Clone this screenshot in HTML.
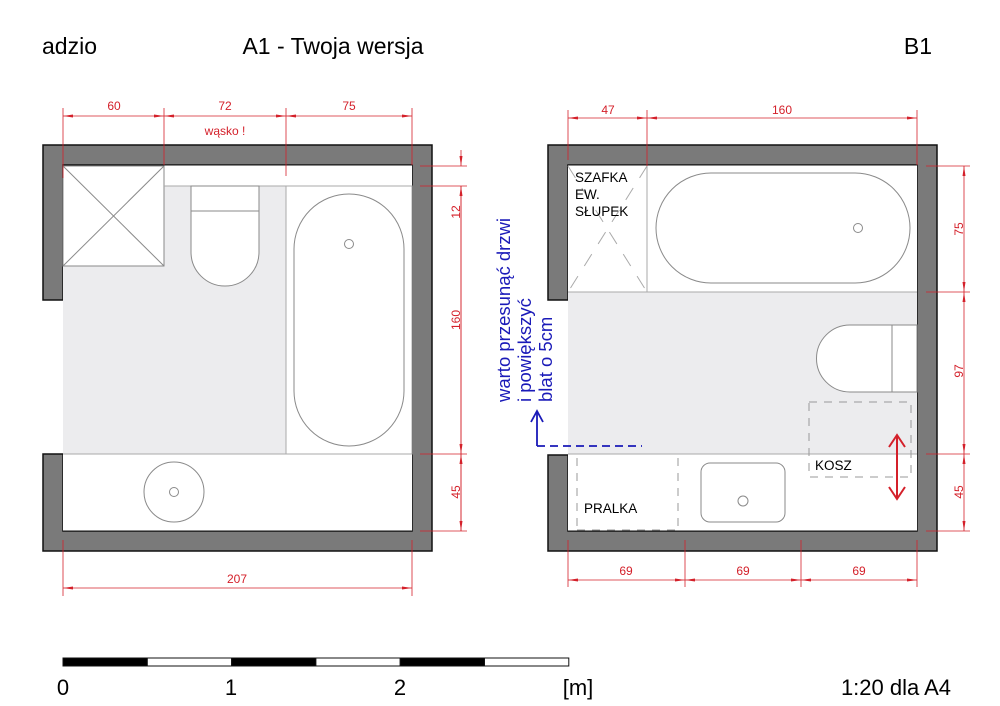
<!DOCTYPE html>
<html><head><meta charset="utf-8"><style>
html,body{margin:0;padding:0;background:#fff;}
svg{display:block;font-family:"Liberation Sans",Arial,sans-serif;}
.r{fill:#d4202a;font-size:12px;text-anchor:middle;}
.dl{stroke:#d4202a;stroke-width:0.8;fill:none;}
.w{fill:#7a7a7a;stroke:#111;stroke-width:1.5;}
.f{stroke:#8a8a8a;stroke-width:1;fill:#fff;}
</style></head><body>
<svg width="1000" height="706" viewBox="0 0 1000 706">
<defs>
<marker id="a" viewBox="0 0 10 6" refX="10" refY="3" markerWidth="10" markerHeight="6" orient="auto-start-reverse" markerUnits="userSpaceOnUse"><path d="M0,1.5 L10,3 L0,4.5 Z" fill="#d4202a"/></marker>
</defs>
<text x="42" y="54" font-size="23">adzio</text>
<text x="333" y="54" font-size="23" text-anchor="middle">A1 - Twoja wersja</text>
<text x="918" y="54" font-size="23" text-anchor="middle">B1</text>

<!-- LEFT PLAN -->
<path class="w" d="M43,145 H432 V551 H43 V454 H63 V531 H412 V165 H63 V300 H43 Z"/>
<rect x="63" y="165.5" width="349" height="365" fill="#fff"/>
<rect x="63" y="186" width="223" height="268" fill="#ececee"/>
<rect x="63" y="166" width="101" height="100" class="f"/>
<line x1="63" y1="166" x2="164" y2="266" stroke="#8a8a8a"/>
<line x1="164" y1="166" x2="63" y2="266" stroke="#8a8a8a"/>
<line x1="164" y1="186" x2="412" y2="186" stroke="#aaa"/>
<rect x="286" y="186" width="126" height="268" fill="#fff" stroke="#aaa"/>
<rect x="294" y="194" width="110" height="252" rx="55" class="f"/>
<circle cx="349" cy="244" r="4.5" class="f"/>
<path class="f" d="M191,186 H259 V252 A34,34 0 0 1 191,252 Z"/>
<line x1="191" y1="211" x2="259" y2="211" stroke="#8a8a8a"/>
<line x1="63" y1="454" x2="412" y2="454" stroke="#aaa"/>
<circle cx="174" cy="492" r="30" class="f"/>
<circle cx="174" cy="492" r="4.5" class="f"/>
<!-- dims left -->
<g class="dl">
<line x1="63" y1="108" x2="63" y2="178"/><line x1="164" y1="108" x2="164" y2="165"/>
<line x1="286" y1="108" x2="286" y2="176"/><line x1="412" y1="108" x2="412" y2="165"/>
<line x1="63" y1="116" x2="164" y2="116" marker-start="url(#a)" marker-end="url(#a)"/>
<line x1="164" y1="116" x2="286" y2="116" marker-start="url(#a)" marker-end="url(#a)"/>
<line x1="286" y1="116" x2="412" y2="116" marker-start="url(#a)" marker-end="url(#a)"/>
<line x1="420" y1="166" x2="467" y2="166"/><line x1="420" y1="186" x2="467" y2="186"/>
<line x1="420" y1="454" x2="467" y2="454"/><line x1="420" y1="531" x2="467" y2="531"/>
<line x1="461" y1="150" x2="461" y2="166" marker-end="url(#a)"/>
<line x1="461" y1="186" x2="461" y2="531"/>
<line x1="461" y1="186" x2="461" y2="454" marker-start="url(#a)" marker-end="url(#a)"/>
<line x1="461" y1="454" x2="461" y2="531" marker-start="url(#a)" marker-end="url(#a)"/>
<line x1="63" y1="540" x2="63" y2="596"/><line x1="412" y1="540" x2="412" y2="596"/>
<line x1="63" y1="588" x2="412" y2="588" marker-start="url(#a)" marker-end="url(#a)"/>
</g>
<text class="r" x="114" y="110">60</text>
<text class="r" x="225" y="110">72</text>
<text class="r" x="349" y="110">75</text>
<text class="r" x="225" y="135" font-size="13">wąsko !</text>
<text class="r" transform="translate(456,212) rotate(-90)" dy="4">12</text>
<text class="r" transform="translate(456,320) rotate(-90)" dy="4">160</text>
<text class="r" transform="translate(456,492) rotate(-90)" dy="4">45</text>
<text class="r" x="237" y="583">207</text>

<!-- RIGHT PLAN -->
<path class="w" d="M548,145 H937 V551 H548 V455 H568 V531 H917 V165 H568 V300 H548 Z"/>
<rect x="568" y="165.5" width="349" height="365" fill="#fff"/>
<rect x="568" y="292" width="349" height="162" fill="#ececee"/>
<line x1="568" y1="292" x2="917" y2="292" stroke="#aaa"/>
<line x1="647" y1="166" x2="647" y2="292" stroke="#aaa"/>
<g stroke="#aaa" stroke-dasharray="14,12">
<line x1="568" y1="166" x2="647" y2="292"/><line x1="647" y1="166" x2="568" y2="292"/>
</g>
<text x="575" y="182" font-size="13.5">SZAFKA</text>
<text x="575" y="199" font-size="13.5">EW.</text>
<text x="575" y="216" font-size="13.5">SŁUPEK</text>
<rect x="656" y="173" width="254" height="110" rx="55" class="f"/>
<circle cx="858" cy="228" r="4.5" class="f"/>
<path class="f" d="M917,325 H850 A33.5,33.5 0 0 0 850,392 H917 Z"/>
<line x1="892" y1="325" x2="892" y2="392" stroke="#8a8a8a"/>
<line x1="568" y1="454" x2="917" y2="454" stroke="#aaa"/>
<g stroke="#999" fill="none" stroke-dasharray="8,7">
<rect x="809" y="402" width="102" height="75"/>
<line x1="577" y1="458" x2="577" y2="530"/><line x1="678" y1="458" x2="678" y2="530"/>
<line x1="577" y1="530" x2="678" y2="530"/>
</g>
<text x="815" y="470" font-size="13.5">KOSZ</text>
<text x="584" y="513" font-size="13.5">PRALKA</text>
<rect x="701" y="463" width="84" height="59" rx="9" class="f"/>
<circle cx="743" cy="501" r="5" class="f"/>
<g stroke="#d4202a" stroke-width="2" fill="none">
<line x1="897" y1="435" x2="897" y2="499"/>
<polyline points="889,447 897,435 905,447"/><polyline points="889,487 897,499 905,487"/>
</g>
<!-- blue -->
<g fill="#1a1ab8" font-size="18.5">
<text transform="translate(510,402) rotate(-90)">warto przesunąć drzwi</text>
<text transform="translate(531,402) rotate(-90)">i powiększyć</text>
<text transform="translate(552,402) rotate(-90)">blat o 5cm</text>
</g>
<g stroke="#1a1ab8" stroke-width="1.8" fill="none">
<polyline points="537,412 537,446"/>
<polyline points="531,422 537,411 543,422"/>
<line x1="537" y1="446" x2="642" y2="446" stroke-dasharray="8,5"/>
</g>
<!-- dims right -->
<g class="dl">
<line x1="568" y1="110" x2="568" y2="160"/><line x1="647" y1="110" x2="647" y2="166"/><line x1="917" y1="110" x2="917" y2="165"/>
<line x1="568" y1="118" x2="647" y2="118" marker-start="url(#a)" marker-end="url(#a)"/>
<line x1="647" y1="118" x2="917" y2="118" marker-start="url(#a)" marker-end="url(#a)"/>
<line x1="926" y1="166" x2="970" y2="166"/><line x1="926" y1="292" x2="970" y2="292"/>
<line x1="926" y1="454" x2="970" y2="454"/><line x1="926" y1="531" x2="970" y2="531"/>
<line x1="964" y1="166" x2="964" y2="292" marker-start="url(#a)" marker-end="url(#a)"/>
<line x1="964" y1="292" x2="964" y2="454" marker-start="url(#a)" marker-end="url(#a)"/>
<line x1="964" y1="454" x2="964" y2="531" marker-start="url(#a)" marker-end="url(#a)"/>
<line x1="568" y1="540" x2="568" y2="587"/><line x1="685" y1="540" x2="685" y2="587"/>
<line x1="801" y1="540" x2="801" y2="587"/><line x1="917" y1="540" x2="917" y2="587"/>
<line x1="568" y1="580" x2="685" y2="580" marker-start="url(#a)" marker-end="url(#a)"/>
<line x1="685" y1="580" x2="801" y2="580" marker-start="url(#a)" marker-end="url(#a)"/>
<line x1="801" y1="580" x2="917" y2="580" marker-start="url(#a)" marker-end="url(#a)"/>
</g>
<text class="r" x="608" y="114">47</text>
<text class="r" x="782" y="114">160</text>
<text class="r" transform="translate(959,229) rotate(-90)" dy="4">75</text>
<text class="r" transform="translate(959,371) rotate(-90)" dy="4">97</text>
<text class="r" transform="translate(959,492) rotate(-90)" dy="4">45</text>
<text class="r" x="626" y="575">69</text>
<text class="r" x="743" y="575">69</text>
<text class="r" x="859" y="575">69</text>

<!-- scale -->
<g stroke="#111" stroke-width="1">
<rect x="63" y="658" width="84.3" height="8" fill="#000"/>
<rect x="147.3" y="658" width="84.3" height="8" fill="#fff"/>
<rect x="231.6" y="658" width="84.3" height="8" fill="#000"/>
<rect x="315.9" y="658" width="84.3" height="8" fill="#fff"/>
<rect x="400.2" y="658" width="84.3" height="8" fill="#000"/>
<rect x="484.5" y="658" width="84.3" height="8" fill="#fff"/>
</g>
<g font-size="22" text-anchor="middle">
<text x="63" y="695">0</text><text x="231" y="695">1</text><text x="400" y="695">2</text>
<text x="578" y="695">[m]</text><text x="896" y="695">1:20 dla A4</text>
</g>
</svg>
</body></html>
